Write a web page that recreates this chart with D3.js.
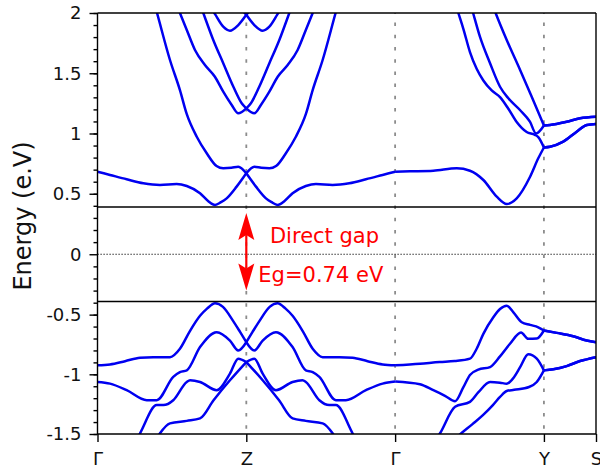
<!DOCTYPE html>
<html>
<head>
<meta charset="utf-8">
<script src="https://cdn.jsdelivr.net/npm/d3@7"></script>
<style>
  body { margin: 0; background: #fff; }
  text { font-family: "DejaVu Sans", sans-serif; }
</style>
</head>
<body>
<svg class="canvas" width="600" height="469"></svg>
<script>
// k-path: high symmetry points and their labels
var symK = [0, 1, 2, 3, 3.35],
    symLabels = ['Γ', 'Z', 'Γ', 'Y', 'S'];

// y ticks for the three panels
var topTicks = [0.5, 1, 1.5, 2],
    midTicks = [0],
    botTicks = [-1.5, -1, -0.5];

// conduction bands, [k, energy in eV]
var c1 = [[0,0.683],[0.084,0.656],[0.196,0.62],[0.308,0.587],[0.42,0.573],[0.532,0.581],[0.6,0.564],[0.689,0.504],[0.743,0.44],[0.79,0.407],[0.83,0.43],[0.868,0.462],[0.935,0.559],[1,0.67],
          [1.065,0.559],[1.132,0.462],[1.17,0.43],[1.21,0.407],[1.257,0.44],[1.311,0.504],[1.4,0.564],[1.468,0.581],[1.58,0.573],[1.692,0.587],[1.804,0.62],[1.916,0.656],[2,0.683],
          [2.1,0.686],[2.257,0.691],[2.414,0.711],[2.503,0.691],[2.593,0.614],[2.683,0.476],[2.75,0.415],[2.817,0.462],[2.907,0.641],[2.962,0.794],[3,0.884],
          [3.041,0.89],[3.13,0.932],[3.22,1.015],[3.288,1.071],[3.35,1.079]];

var c2 = [[0,2.9],[0.2,2.5],[0.35,2.22],[0.4,2.0],[0.487,1.61],[0.554,1.36],[0.6,1.16],[0.667,0.973],[0.734,0.836],[0.8,0.73],[0.845,0.711],[0.9,0.715],[0.946,0.724],[1,0.67],
          [1.054,0.724],[1.1,0.715],[1.155,0.711],[1.2,0.73],[1.266,0.836],[1.333,0.973],[1.4,1.16],[1.446,1.36],[1.513,1.61],[1.6,2.0],[1.65,2.22],[1.8,2.5],[2,2.9],
          [2.2,2.6],[2.38,2.18],[2.425,2.0],[2.459,1.867],[2.503,1.676],[2.548,1.537],[2.593,1.44],[2.649,1.357],[2.705,1.302],[2.761,1.205],[2.817,1.095],[2.884,1.012],[2.94,0.989],[2.962,0.97],[3,0.884],
          [3.041,0.89],[3.13,0.932],[3.22,1.015],[3.288,1.071],[3.35,1.079]];

var c3 = [[0,3.3],[0.3,2.6],[0.51,2.14],[0.554,2.0],[0.6,1.859],[0.655,1.693],[0.722,1.568],[0.789,1.471],[0.845,1.347],[0.902,1.237],[0.946,1.168],[1,1.209],
          [1.054,1.168],[1.098,1.237],[1.155,1.347],[1.211,1.471],[1.278,1.568],[1.345,1.693],[1.4,1.859],[1.446,2.0],[1.49,2.14],[1.7,2.6],[2,3.3],
          [2.3,2.9],[2.48,2.2],[2.526,1.992],[2.57,1.803],[2.638,1.583],[2.705,1.388],[2.761,1.292],[2.839,1.195],[2.906,1.098],[2.947,1.0],[3,1.066],
          [3.041,1.071],[3.153,1.098],[3.243,1.126],[3.35,1.139]];

var c4 = [[0,3.6],[0.4,2.8],[0.67,2.14],[0.711,2.0],[0.778,1.776],[0.845,1.583],[0.913,1.388],[0.969,1.251],[1,1.209],
          [1.031,1.251],[1.087,1.388],[1.155,1.583],[1.222,1.776],[1.289,2.0],[1.33,2.14],[1.6,2.8],[2,3.6],
          [2.4,2.9],[2.63,2.15],[2.678,1.992],[2.75,1.776],[2.84,1.527],[2.918,1.305],[3,1.066],
          [3.041,1.071],[3.153,1.098],[3.243,1.126],[3.35,1.139]];

var c5 = [[0.5,2.6],[0.76,2.05],[0.79,1.99],[0.845,1.886],[0.89,1.853],[0.946,1.9],[1,1.985],
          [1.054,1.9],[1.11,1.853],[1.155,1.886],[1.21,1.99],[1.24,2.05],[1.5,2.6]];

var c6 = [[0.9,2.3],[0.95,2.08],[1,1.985],[1.05,2.08],[1.1,2.3]];

// valence bands
var v1 = [[0,-0.925],[0.084,-0.917],[0.185,-0.89],[0.286,-0.861],[0.375,-0.856],[0.487,-0.856],[0.554,-0.786],[0.62,-0.64],[0.689,-0.51],[0.736,-0.45],[0.79,-0.405],[0.843,-0.435],[0.91,-0.55],[0.958,-0.645],[1,-0.731],
          [1.042,-0.645],[1.09,-0.55],[1.157,-0.435],[1.21,-0.405],[1.264,-0.45],[1.311,-0.51],[1.38,-0.64],[1.446,-0.786],[1.513,-0.856],[1.625,-0.856],[1.714,-0.861],[1.815,-0.89],[1.916,-0.917],[2,-0.925],
          [2.167,-0.911],[2.3,-0.897],[2.4,-0.889],[2.503,-0.869],[2.548,-0.786],[2.593,-0.661],[2.66,-0.522],[2.705,-0.453],[2.75,-0.425],[2.795,-0.481],[2.851,-0.564],[2.907,-0.586],[2.962,-0.606],[3,-0.633],
          [3.086,-0.653],[3.197,-0.681],[3.287,-0.717],[3.35,-0.731]];

var v2 = [[0,-1.064],[0.084,-1.078],[0.196,-1.133],[0.331,-1.217],[0.398,-1.217],[0.509,-1.022],[0.554,-0.981],[0.6,-0.967],[0.689,-0.772],[0.801,-0.647],[0.89,-0.717],[0.946,-0.8],[1,-0.731],
          [1.054,-0.8],[1.11,-0.717],[1.199,-0.647],[1.311,-0.772],[1.4,-0.967],[1.446,-0.981],[1.491,-1.022],[1.602,-1.217],[1.669,-1.217],[1.804,-1.133],[1.916,-1.078],[2,-1.06],
          [2.167,-1.083],[2.257,-1.133],[2.335,-1.18],[2.403,-1.225],[2.458,-1.11],[2.503,-1.005],[2.559,-0.961],[2.638,-0.939],[2.705,-0.85],[2.772,-0.744],[2.846,-0.65],[2.895,-0.703],[2.952,-0.7],[3,-0.633],
          [3.086,-0.653],[3.197,-0.681],[3.287,-0.717],[3.35,-0.731]];

var v3 = [[0,-2.05],[0.15,-1.8],[0.286,-1.494],[0.398,-1.258],[0.443,-1.258],[0.509,-1.217],[0.6,-1.064],[0.622,-1.05],[0.689,-1.064],[0.801,-1.133],[0.89,-0.994],[0.946,-0.869],[1,-0.897],
          [1.054,-0.869],[1.11,-0.994],[1.199,-1.133],[1.311,-1.064],[1.378,-1.05],[1.4,-1.064],[1.491,-1.217],[1.557,-1.258],[1.602,-1.258],[1.714,-1.494],[1.85,-1.8],[2,-2.05],
          [2.15,-1.75],[2.302,-1.494],[2.403,-1.272],[2.503,-1.231],[2.56,-1.15],[2.638,-1.064],[2.705,-1.07],[2.75,-1.078],[2.8,-1.022],[2.84,-0.94],[2.895,-0.832],[2.952,-0.869],[3,-0.967],
          [3.063,-0.958],[3.153,-0.931],[3.243,-0.889],[3.35,-0.856]];

var v4 = [[0,-2.15],[0.35,-1.65],[0.42,-1.494],[0.487,-1.411],[0.6,-1.39],[0.689,-1.369],[0.78,-1.217],[0.89,-1.05],[1,-0.897],
          [1.11,-1.05],[1.22,-1.217],[1.311,-1.369],[1.4,-1.39],[1.513,-1.411],[1.58,-1.494],[1.65,-1.65],[2,-2.15],
          [2.3,-1.65],[2.445,-1.494],[2.522,-1.415],[2.59,-1.342],[2.657,-1.258],[2.705,-1.19],[2.75,-1.14],[2.8,-1.13],[2.9,-1.106],[2.952,-1.064],[3,-0.967],
          [3.063,-0.958],[3.153,-0.931],[3.243,-0.889],[3.35,-0.856]];

var conduction = [c1, c2, c3, c4, c5, c6],
    valence = [v1, v2, v3, v4];

// where does it live
var svg = d3.select('.canvas'),
    xL = 97.5, xR = 596,
    yT = 13, yB = 434,
    brkHi = 207, brkLo = 301.5;

var x = d3.scaleLinear().domain([0, 3.35]).range([xL, xR]),
    yTop = d3.scaleLinear().domain([0.39, 2]).range([brkHi, yT]),
    yMid = d3.scaleLinear().domain([-0.39, 0.39]).range([brkLo, brkHi]),
    yBot = d3.scaleLinear().domain([-1.5, -0.39]).range([yB, brkLo]);

var defs = svg.append('defs');
defs.append('clipPath').attr('id', 'clip-top')
    .append('rect').attr('x', xL).attr('y', yT)
    .attr('width', xR - xL).attr('height', brkHi - yT);
defs.append('clipPath').attr('id', 'clip-bot')
    .append('rect').attr('x', xL).attr('y', brkLo)
    .attr('width', xR - xL).attr('height', yB - brkLo);

// dashed lines at the inner symmetry points
svg.append('g').selectAll('line')
    .data(symK.slice(1, 4))
    .enter().append('line')
    .attr('x1', function (d) { return x(d); })
    .attr('x2', function (d) { return x(d); })
    .attr('y1', yT).attr('y2', yB)
    .attr('stroke', '#8c8c8c')
    .attr('stroke-width', 1.8)
    .attr('stroke-dasharray', '3.5,8.7')
    .attr('stroke-dashoffset', 2.6);

// cut a band into pieces between symmetry points so kinks stay sharp
function pieces(band) {
    var out = [];
    for (var i = 0; i < symK.length - 1; i++) {
        var a = symK[i], b = symK[i + 1];
        var seg = band.filter(function (p) { return p[0] >= a - 1e-9 && p[0] <= b + 1e-9; });
        if (seg.length > 1) out.push(seg);
    }
    return out;
}

function drawBands(bands, yScale, clipId) {
    var line = d3.line()
        .x(function (d) { return x(d[0]); })
        .y(function (d) { return yScale(d[1]); })
        .curve(d3.curveMonotoneX);
    var segs = [];
    bands.forEach(function (b) { segs = segs.concat(pieces(b)); });
    svg.append('g')
        .attr('clip-path', 'url(#' + clipId + ')')
        .selectAll('path')
        .data(segs)
        .enter().append('path')
        .attr('d', line)
        .attr('fill', 'none')
        .attr('stroke', '#0000f0')
        .attr('stroke-width', 2.5)
        .attr('stroke-linejoin', 'round');
}

drawBands(conduction, yTop, 'clip-top');
drawBands(valence, yBot, 'clip-bot');

// frame and panel breaks
var frame = svg.append('g').attr('stroke', '#000').attr('stroke-width', 1.4);
[yT, brkHi, brkLo, yB].forEach(function (yy) {
    frame.append('line').attr('x1', xL).attr('x2', xR).attr('y1', yy).attr('y2', yy);
});
frame.append('line').attr('x1', xR).attr('x2', xR).attr('y1', yT).attr('y2', yB);
frame.append('line').attr('x1', xL).attr('x2', xL).attr('y1', yT).attr('y2', yB);

// zero line
svg.append('line')
    .attr('x1', xL).attr('x2', xR)
    .attr('y1', yMid(0)).attr('y2', yMid(0))
    .attr('stroke', '#000').attr('stroke-width', 1)
    .attr('stroke-dasharray', '1.2,1.8');

// y axes, one per panel
function yAxis(scale, major, minor) {
    var g = svg.append('g').attr('transform', 'translate(' + xL + ',0)');
    g.append('g').call(d3.axisLeft(scale).tickValues(minor).tickSize(4).tickFormat(''));
    g.append('g').call(d3.axisLeft(scale).tickValues(major).tickSize(8).tickPadding(8)
        .tickFormat(function (d) { return String(d); }));
    g.selectAll('.domain').remove();
    g.selectAll('.tick line').attr('stroke', '#000').attr('stroke-width', 1.4);
    g.selectAll('.tick text').attr('font-size', 18).attr('fill', '#111')
        .style('font-family', '"DejaVu Sans", sans-serif');
}

yAxis(yTop, topTicks, d3.range(4, 21).map(function (d) { return d / 10; }));
yAxis(yMid, midTicks, [-0.3, -0.2, -0.1, 0.1, 0.2, 0.3]);
yAxis(yBot, botTicks, d3.range(-15, -3).map(function (d) { return d / 10; }));

// x axis
var xg = svg.append('g')
    .attr('transform', 'translate(0,' + yB + ')')
    .call(d3.axisBottom(x).tickValues(symK).tickSize(8).tickPadding(10)
        .tickFormat(function (d, i) { return symLabels[i]; }));
xg.select('.domain').remove();
xg.selectAll('.tick line').attr('stroke', '#000').attr('stroke-width', 1.4);
xg.selectAll('.tick text').attr('font-size', 18).attr('fill', '#111')
    .style('font-family', '"DejaVu Sans", sans-serif');

// axis title
svg.append('text')
    .attr('transform', 'translate(31,216) rotate(-90)')
    .attr('text-anchor', 'middle')
    .attr('font-size', 24)
    .attr('fill', '#111')
    .text('Energy (e.V)');

// gap arrow at Z
var ax = x(symK[1]),
    tipHi = yMid(0.34),
    tipLo = yMid(-0.3),
    headLen = 27, headW = 8, notch = 5;

var ann = svg.append('g').attr('fill', '#ff0000');
ann.append('line')
    .attr('x1', ax).attr('x2', ax)
    .attr('y1', tipHi + headLen - notch).attr('y2', tipLo - headLen + notch)
    .attr('stroke', '#ff0000').attr('stroke-width', 2.2);
ann.append('path')
    .attr('d', 'M' + ax + ',' + tipHi +
        'L' + (ax - headW) + ',' + (tipHi + headLen) +
        'L' + ax + ',' + (tipHi + headLen - notch) +
        'L' + (ax + headW) + ',' + (tipHi + headLen) + 'Z');
ann.append('path')
    .attr('d', 'M' + ax + ',' + tipLo +
        'L' + (ax - headW) + ',' + (tipLo - headLen) +
        'L' + ax + ',' + (tipLo - headLen + notch) +
        'L' + (ax + headW) + ',' + (tipLo - headLen) + 'Z');

ann.append('text')
    .attr('x', x(1.159)).attr('y', yMid(0.09))
    .attr('font-size', 21)
    .text('Direct gap');
ann.append('text')
    .attr('x', x(1.081)).attr('y', yMid(-0.227))
    .attr('font-size', 21)
    .text('Eg=0.74 eV');
</script>
</body>
</html>
